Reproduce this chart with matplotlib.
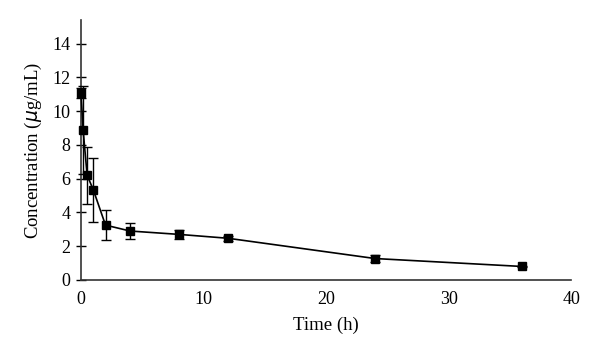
import matplotlib
matplotlib.use('Agg')
import matplotlib.pyplot as plt

TIME = [0, 0.17, 0.5, 1, 2, 4, 8, 12, 24, 36]
CONC = [11.1, 8.9, 6.2, 5.35, 3.25, 2.9, 2.7, 2.47, 1.27, 0.8]
SD = [0.3, 2.6, 1.7, 1.9, 0.9, 0.5, 0.25, 0.15, 0.2, 0.05]
YTICKS = [0, 2, 4, 6, 8, 10, 12, 14]
XTICKS = [0, 10, 20, 30, 40]

plt.rcParams['font.family'] = ['Liberation Serif', 'DejaVu Serif']

fig = plt.figure(figsize=(6.0, 3.63), dpi=100)
ax = fig.add_axes([0.135, 0.2287, 0.817, 0.7163])

cont = ax.errorbar(TIME, CONC, yerr=SD, color='black', lw=1.2, marker='s', ms=6,
                   elinewidth=1.0, capsize=3.5, capthick=1.0, zorder=3)
for art in cont.get_children():
    art.set_clip_on(False)

ax.set_xlim(0, 40)
ax.set_ylim(0, 15.4)
ax.set_xticks(XTICKS)
ax.set_yticks(YTICKS)
ax.tick_params(axis='x', length=0, labelsize=13, pad=8)
ax.tick_params(axis='y', direction='inout', length=7, width=1.0, labelsize=13, pad=4)
for side in ('top', 'right'):
    ax.spines[side].set_visible(False)
for side in ('left', 'bottom'):
    ax.spines[side].set_linewidth(1.2)
    ax.spines[side].set_color('#333333')

ax.set_xlabel('Time (h)', fontsize=13.5, labelpad=6)
ax.set_ylabel(r'Concentration ($\mu$g/mL)', fontsize=13.5, labelpad=6)

fig.savefig('out.png', dpi=100)
